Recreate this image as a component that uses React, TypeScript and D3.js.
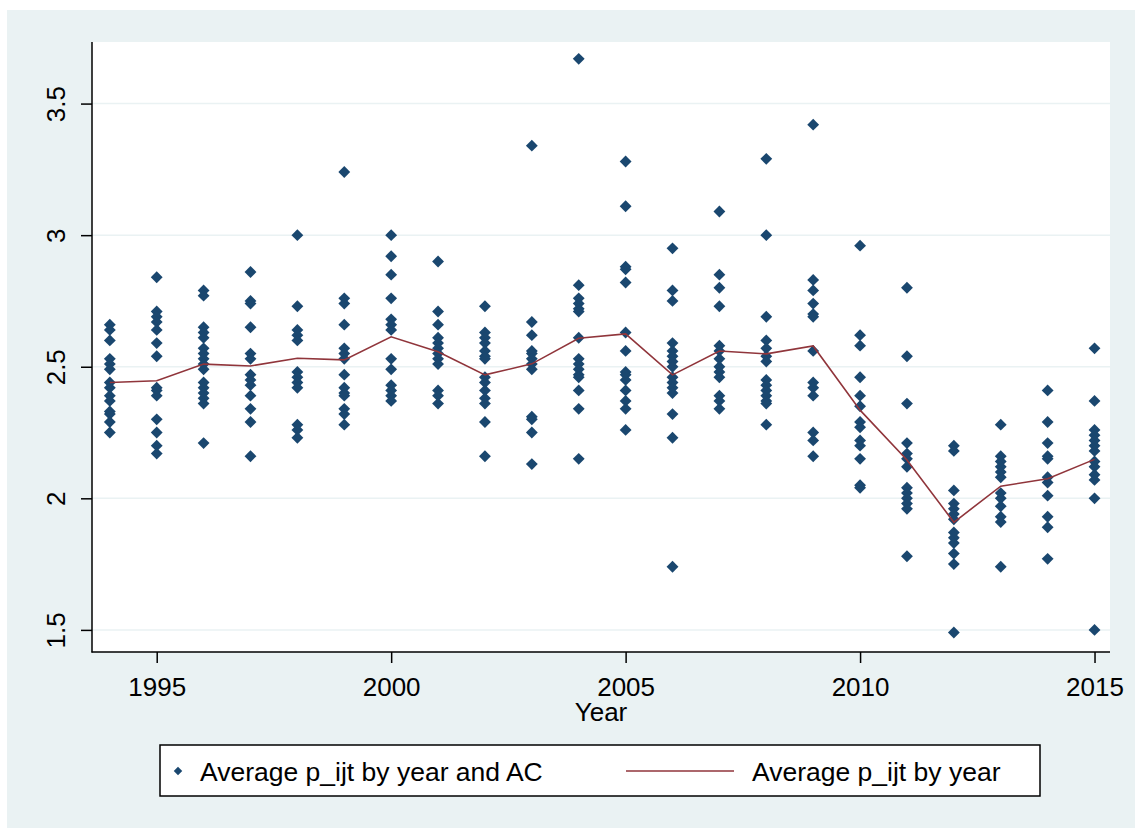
import React, { useEffect, useRef } from 'react';
import * as d3 from 'd3';

// years on the x axis
const years = [1994, 1995, 1996, 1997, 1998, 1999, 2000, 2001, 2002, 2003, 2004,
  2005, 2006, 2007, 2008, 2009, 2010, 2011, 2012, 2013, 2014, 2015];

// average p_ijt by year (red line)
const yearMeans = [2.44, 2.447, 2.51, 2.503, 2.532, 2.526, 2.614, 2.557, 2.469, 2.511, 2.608,
  2.625, 2.469, 2.56, 2.549, 2.579, 2.335, 2.146, 1.909, 2.046, 2.074, 2.148];

// average p_ijt by year and AC (one list per year, same order as years)
const acValues: number[][] = [
  [2.66, 2.64, 2.60, 2.53, 2.51, 2.49, 2.44, 2.42, 2.39, 2.37, 2.33, 2.32, 2.29, 2.25],
  [2.84, 2.71, 2.69, 2.67, 2.64, 2.59, 2.54, 2.42, 2.41, 2.39, 2.30, 2.25, 2.20, 2.17],
  [2.79, 2.77, 2.65, 2.63, 2.61, 2.57, 2.55, 2.53, 2.51, 2.49, 2.44, 2.42, 2.40, 2.38, 2.36, 2.21],
  [2.86, 2.75, 2.74, 2.65, 2.55, 2.53, 2.47, 2.45, 2.43, 2.39, 2.34, 2.29, 2.16],
  [3.00, 2.73, 2.64, 2.62, 2.60, 2.48, 2.46, 2.44, 2.42, 2.28, 2.26, 2.23],
  [3.24, 2.76, 2.74, 2.66, 2.57, 2.55, 2.53, 2.47, 2.42, 2.40, 2.39, 2.34, 2.32, 2.28],
  [3.00, 2.92, 2.85, 2.76, 2.68, 2.66, 2.64, 2.53, 2.49, 2.43, 2.41, 2.39, 2.37],
  [2.90, 2.71, 2.66, 2.61, 2.59, 2.57, 2.55, 2.53, 2.51, 2.41, 2.39, 2.36],
  [2.73, 2.63, 2.61, 2.59, 2.56, 2.54, 2.53, 2.46, 2.44, 2.41, 2.38, 2.36, 2.29, 2.16],
  [3.34, 2.67, 2.62, 2.56, 2.55, 2.53, 2.51, 2.49, 2.31, 2.30, 2.25, 2.13],
  [3.67, 2.81, 2.76, 2.74, 2.72, 2.71, 2.61, 2.53, 2.51, 2.49, 2.47, 2.46, 2.41, 2.34, 2.15],
  [3.28, 3.11, 2.88, 2.87, 2.82, 2.63, 2.56, 2.48, 2.47, 2.45, 2.41, 2.37, 2.34, 2.26],
  [2.95, 2.79, 2.75, 2.59, 2.56, 2.54, 2.52, 2.50, 2.46, 2.44, 2.42, 2.40, 2.32, 2.23, 1.74],
  [3.09, 2.85, 2.80, 2.73, 2.58, 2.56, 2.53, 2.50, 2.48, 2.46, 2.39, 2.37, 2.34],
  [3.29, 3.00, 2.69, 2.60, 2.57, 2.54, 2.52, 2.45, 2.43, 2.41, 2.39, 2.37, 2.36, 2.28],
  [3.42, 2.83, 2.79, 2.74, 2.70, 2.69, 2.56, 2.44, 2.42, 2.39, 2.25, 2.22, 2.16],
  [2.96, 2.62, 2.58, 2.46, 2.39, 2.35, 2.29, 2.27, 2.22, 2.20, 2.15, 2.05, 2.04],
  [2.80, 2.54, 2.36, 2.21, 2.17, 2.15, 2.12, 2.04, 2.02, 2.00, 1.98, 1.96, 1.78],
  [2.20, 2.18, 2.03, 1.98, 1.96, 1.94, 1.92, 1.87, 1.85, 1.83, 1.79, 1.75, 1.49],
  [2.28, 2.16, 2.14, 2.12, 2.10, 2.08, 2.02, 2.00, 1.97, 1.93, 1.91, 1.74],
  [2.41, 2.29, 2.21, 2.16, 2.15, 2.08, 2.06, 2.01, 1.93, 1.89, 1.77],
  [2.57, 2.37, 2.26, 2.24, 2.22, 2.20, 2.18, 2.14, 2.12, 2.09, 2.07, 2.00, 1.50],
];

const xTicks = [1995, 2000, 2005, 2010, 2015];
const yTicks = [1.5, 2, 2.5, 3, 3.5];
const legendLabels = ['Average p_ijt by year and AC', 'Average p_ijt by year'];

const width = 1135;
const height = 828;
const FONT = 'Arial, "Liberation Sans", sans-serif';
const NAVY = '#1a476f';
const MAROON = '#90353b';
const BG = '#eaf2f3';

const App = () => {
  const svgRef = useRef<SVGSVGElement>(null);

  useEffect(() => {
    const svg = d3.select(svgRef.current);
    svg.selectAll('*').remove();

    const plot = { left: 92, right: 1110, top: 42, bottom: 652 };

    // outer Stata-style background
    svg.append('rect')
      .attr('x', 7).attr('y', 10)
      .attr('width', width - 7).attr('height', height - 10)
      .attr('fill', BG);

    svg.append('rect')
      .attr('x', plot.left).attr('y', plot.top)
      .attr('width', plot.right - plot.left).attr('height', plot.bottom - plot.top)
      .attr('fill', 'white');

    const x = d3.scaleLinear().domain([1993.62, 2015.33]).range([plot.left, plot.right]);
    const y = d3.scaleLinear().domain([1.416, 3.734]).range([plot.bottom, plot.top]);

    // grid lines
    svg.append('g')
      .selectAll('line')
      .data(yTicks)
      .enter()
      .append('line')
      .attr('x1', plot.left).attr('x2', plot.right)
      .attr('y1', d => y(d)).attr('y2', d => y(d))
      .attr('stroke', BG)
      .attr('stroke-width', 1.5);

    // scatter of AC averages
    const points = years.flatMap((yr, i) => acValues[i].map(v => ({ yr, v })));
    const diamond = d3.symbol().type(d3.symbolSquare).size(70);
    svg.append('g')
      .selectAll('path')
      .data(points)
      .enter()
      .append('path')
      .attr('d', diamond)
      .attr('transform', d => `translate(${x(d.yr)},${y(d.v)}) rotate(45)`)
      .attr('fill', NAVY);

    // yearly average line
    const line = d3.line<number>()
      .x((_, i) => x(years[i]))
      .y(d => y(d));
    svg.append('path')
      .datum(yearMeans)
      .attr('fill', 'none')
      .attr('stroke', MAROON)
      .attr('stroke-width', 1.6)
      .attr('d', line);

    // axes
    const yAxis = svg.append('g')
      .attr('transform', `translate(${plot.left},0)`)
      .call(d3.axisLeft(y).tickValues(yTicks).tickSize(11).tickSizeOuter(0).tickFormat(d3.format('')));
    yAxis.select('.domain').remove();
    yAxis.append('line')
      .attr('x1', 0).attr('x2', 0)
      .attr('y1', plot.top).attr('y2', plot.bottom + 0.5)
      .attr('stroke', '#000').attr('stroke-width', 1.5);
    yAxis.selectAll('.tick line').attr('stroke', '#000').attr('stroke-width', 1.5);
    yAxis.selectAll('.tick text')
      .attr('x', null).attr('dy', null)
      .attr('transform', 'translate(-27,0) rotate(-90)')
      .attr('text-anchor', 'middle')
      .attr('fill', '#000')
      .style('font-family', FONT)
      .style('font-size', '26px');

    const xAxis = svg.append('g')
      .attr('transform', `translate(0,${plot.bottom})`)
      .call(d3.axisBottom(x).tickValues(xTicks).tickSize(11).tickSizeOuter(0).tickFormat(d3.format('d')));
    xAxis.select('.domain').remove();
    xAxis.append('line')
      .attr('x1', plot.left - 0.5).attr('x2', plot.right)
      .attr('y1', 0).attr('y2', 0)
      .attr('stroke', '#000').attr('stroke-width', 1.5);
    xAxis.selectAll('.tick line').attr('stroke', '#000').attr('stroke-width', 1.5);
    xAxis.selectAll('.tick text')
      .attr('y', 44).attr('dy', null)
      .attr('fill', '#000')
      .style('font-family', FONT)
      .style('font-size', '26px');

    svg.append('text')
      .attr('x', (plot.left + plot.right) / 2)
      .attr('y', 721)
      .attr('text-anchor', 'middle')
      .style('font-family', FONT)
      .style('font-size', '26px')
      .text('Year');

    // legend
    const lg = svg.append('g');
    lg.append('rect')
      .attr('x', 160).attr('y', 745)
      .attr('width', 880).attr('height', 51)
      .attr('fill', 'white')
      .attr('stroke', '#000')
      .attr('stroke-width', 1.5);
    lg.append('path')
      .attr('d', d3.symbol().type(d3.symbolSquare).size(36))
      .attr('transform', 'translate(178,771) rotate(45)')
      .attr('fill', NAVY);
    lg.append('line')
      .attr('x1', 626).attr('x2', 734)
      .attr('y1', 771).attr('y2', 771)
      .attr('stroke', MAROON).attr('stroke-width', 1.6);
    lg.selectAll('text.lbl')
      .data(legendLabels)
      .enter()
      .append('text')
      .attr('class', 'lbl')
      .attr('x', (_, i) => (i === 0 ? 200 : 752))
      .attr('y', 781)
      .style('font-family', FONT)
      .style('font-size', '26.5px')
      .text(d => d);
  }, []);

  return (
    <svg ref={svgRef} width={width} height={height}
      style={{ position: 'absolute', left: 0, top: 0, background: 'white' }} />
  );
};

export default App;
